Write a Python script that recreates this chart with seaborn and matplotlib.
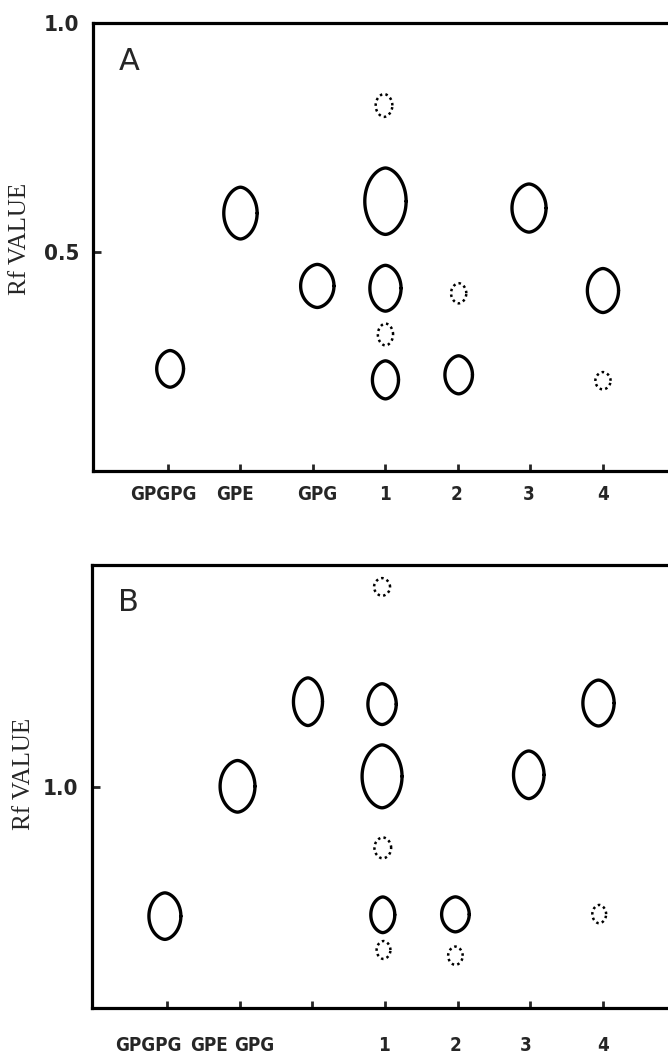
import numpy as np
import pandas as pd
import seaborn as sns
import matplotlib.pyplot as plt

lanes = ['GPGPG', 'GPE', 'GPG', '1', '2', '3', '4']

# panel A - spots (x = lane, rf = Rf value)
a_x = [0.03, 1.0, 2.06, 3.0, 3.0, 3.0, 3.0, 2.98, 4.01, 4.01, 4.98, 6.0, 6.0]
a_rf = [0.245, 0.585, 0.426, 0.611, 0.421, 0.320, 0.221, 0.820, 0.410, 0.232, 0.596, 0.416, 0.219]
a_w = [0.37, 0.46, 0.46, 0.57, 0.43, 0.21, 0.36, 0.23, 0.21, 0.38, 0.47, 0.43, 0.21]
a_h = [0.080, 0.113, 0.094, 0.145, 0.100, 0.048, 0.083, 0.050, 0.044, 0.083, 0.105, 0.096, 0.038]
a_kind = ['solid', 'solid', 'solid', 'solid', 'solid', 'dotted', 'solid', 'dotted',
          'dotted', 'solid', 'solid', 'solid', 'dotted']

# panel B - relative Rf (GPE = 1.0)
b_x = [-0.03, 0.97, 1.94, 2.96, 2.96, 2.96, 2.97, 2.97, 2.98, 3.97, 3.97, 4.98, 5.94, 5.95]
b_rf = [0.415, 1.001, 1.383, 1.901, 1.372, 1.046, 0.723, 0.421, 0.262, 0.423, 0.236, 1.053, 1.377, 0.424]
b_w = [0.44, 0.48, 0.40, 0.22, 0.39, 0.55, 0.23, 0.33, 0.19, 0.38, 0.20, 0.42, 0.43, 0.19]
b_h = [0.210, 0.233, 0.215, 0.080, 0.184, 0.284, 0.095, 0.161, 0.081, 0.158, 0.083, 0.215, 0.207, 0.083]
b_kind = ['solid', 'solid', 'solid', 'dotted', 'solid', 'solid', 'dotted', 'solid', 'dotted',
          'solid', 'dotted', 'solid', 'solid', 'dotted']

# where the lane names sit (panel B names are shifted left in the original)
a_label_pos = [-0.07, 0.92, 2.06, 2.995, 3.98, 4.98, 6.005]
b_label_pos = [-0.26, 0.58, 1.2, 2.98, 3.97, 4.94, 6.005]


def spot_outlines(xs, ys, ws, hs, kinds, n=90):
    # lens shaped spot: a little pointed at top and bottom
    t = np.linspace(0, 2 * np.pi, n)
    c, s = np.cos(t), np.sin(t)
    frames = []
    for i, (x, y, w, h, k) in enumerate(zip(xs, ys, ws, hs, kinds)):
        frames.append(pd.DataFrame({
            'x': x + w / 2 * np.sign(c) * np.abs(c) ** 1.15,
            'y': y + h / 2 * s,
            'spot': i,
            'kind': k,
        }))
    return pd.concat(frames, ignore_index=True)


def draw_panel(ax, df, ylim, yticks, label_pos, letter, label_pad):
    solid = df[df['kind'] == 'solid']
    dotted = df[df['kind'] == 'dotted']
    sns.lineplot(data=solid, x='x', y='y', units='spot', estimator=None, sort=False,
                 color='black', lw=2.4, ax=ax)
    sns.lineplot(data=dotted, x='x', y='y', units='spot', estimator=None, sort=False,
                 color='black', lw=1.8, linestyle=(0, (1.0, 1.3)), ax=ax)
    ax.set_xlim(-1.034, 6.897)
    ax.set_ylim(*ylim)
    ax.set_xlabel('')
    ax.set_ylabel('')

    # labels on major ticks (no mark), the small marks on minor ticks at the lanes
    ax.set_xticks(label_pos)
    ax.set_xticklabels(lanes, fontweight='bold', fontsize=13.5, fontstretch='condensed')
    ax.set_xticks(range(len(lanes)), minor=True)
    ax.tick_params(axis='x', which='major', length=0, pad=label_pad)
    ax.tick_params(axis='x', which='minor', direction='in', length=5, width=2)

    ax.set_yticks(yticks)
    ax.set_yticklabels(['%.1f' % v for v in yticks], fontweight='bold', fontsize=16,
                       fontstretch='condensed')
    ax.tick_params(axis='y', direction='in', length=6, width=2, pad=10)
    ax.yaxis.set_minor_locator(plt.NullLocator())

    sns.despine(ax=ax, right=True, top=False)
    for side in ['left', 'top', 'bottom']:
        ax.spines[side].set_linewidth(2.3)
        ax.spines[side].set_color('black')
    ax.text(0.045, 0.915, letter, transform=ax.transAxes, ha='left', va='center',
            fontsize=22)


sns.set_style('ticks')
plt.rcParams['font.family'] = ['DejaVu Sans']

fig = plt.figure(figsize=(6.68, 10.54), dpi=100)
ax_a = fig.add_axes([0.1392, 0.5531, 0.8608, 0.4251])
ax_b = fig.add_axes([0.1377, 0.0436, 0.8623, 0.4203])

draw_panel(ax_a, spot_outlines(a_x, a_rf, a_w, a_h, a_kind), (0.022, 1.0), [0.5, 1.0],
           a_label_pos, 'A', 10)
draw_panel(ax_b, spot_outlines(b_x, b_rf, b_w, b_h, b_kind), (0.0, 2.0), [1.0],
           b_label_pos, 'B', 20)

fig.text(0.030, 1 - 239 / 1054, 'Rf VALUE', rotation=90, ha='center', va='center',
         fontsize=18, family='Liberation Serif')
fig.text(0.036, 1 - 774 / 1054, 'Rf VALUE', rotation=90, ha='center', va='center',
         fontsize=18, family='Liberation Serif')

fig.savefig('out.png', dpi=100)
